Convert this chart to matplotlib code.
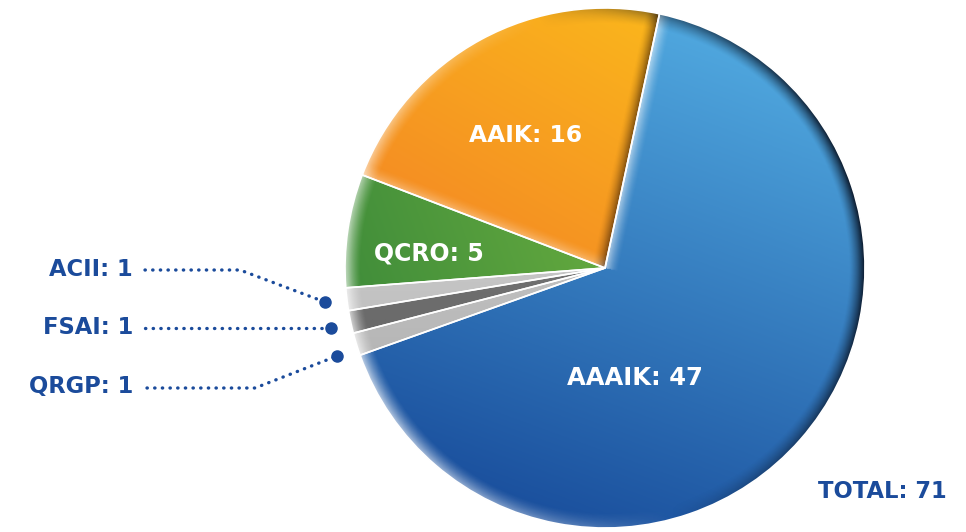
import numpy as np
import matplotlib.pyplot as plt
from matplotlib.colors import LinearSegmentedColormap
from matplotlib.patches import Circle

# Data ---------------------------------------------------------
labels = ['AAIK', 'QCRO', 'ACII', 'FSAI', 'QRGP', 'AAAIK']
values = [16, 5, 1, 1, 1, 47]
total = sum(values)

# light / dark colour of each slice
cols_light = ['#fbb81c', '#86c443', '#e2e2e2', '#8c8c8c', '#dedede', '#50a8df']
cols_dark = ['#f06f28', '#3f8c3a', '#a9a9a9', '#555555', '#a2a2a2', '#1a4f9d']
grad_angle = [60, 20, 90, 90, 90, 70]
# bevel on the radial edges: (start edge, end edge), >0 light, <0 shadow
bevel = [(-0.65, 0.35), (0.0, 0.0), (0, 0), (0, 0), (0, 0), (0.0, 0.6)]

navy = '#1b4b9b'

H = 532
fig = plt.figure(figsize=(9.66, 5.32), dpi=100)
ax = fig.add_axes([0, 0, 1, 1])

cx, cy, R = 605, H - 268, 260
wedges, _ = ax.pie(values, startangle=77.9, counterclock=True,
                   center=(cx, cy), radius=R, frame=True,
                   wedgeprops=dict(facecolor='none', edgecolor='white',
                                   linewidth=1.2, zorder=5))

ax.set_xlim(0, 966)
ax.set_ylim(0, H)
ax.set_aspect('equal')
ax.axis('off')

n = 600
xs = np.linspace(cx - R, cx + R, n)
ys = np.linspace(cy - R, cy + R, n)
X, Y = np.meshgrid(xs, ys)
ext = (cx - R, cx + R, cy - R, cy + R)


def overlay(light, dark, shade_rgb=(0.03, 0.06, 0.12)):
    # white where light > 0, dark colour where dark > 0
    img = np.zeros((n, n, 4))
    tot = light + dark
    frac = np.where(tot > 0, dark / np.maximum(tot, 1e-9), 0)
    for k in range(3):
        img[..., k] = (1 - frac) * 1.0 + frac * shade_rgb[k]
    img[..., 3] = np.clip(tot, 0, 1)
    return img


# gradient fill + bevel for every slice
for w, c0, c1, ang, bv in zip(wedges, cols_dark, cols_light, grad_angle, bevel):
    a = np.radians(ang)
    d = (np.cos(a) * (X - cx) + np.sin(a) * (Y - cy)) / R
    t = np.clip((d + 1) / 2, 0, 1)
    cmap = LinearSegmentedColormap.from_list('g', [c0, c1])
    im = ax.imshow(t, cmap=cmap, extent=ext, origin='lower', vmin=0, vmax=1,
                   zorder=2, interpolation='bilinear')
    im.set_clip_path(w)

    light = np.zeros((n, n))
    dark = np.zeros((n, n))
    for edge_ang, amt in zip((w.theta1, w.theta2), bv):
        if amt == 0:
            continue
        e = np.radians(edge_ang)
        dist = np.abs((X - cx) * np.sin(e) - (Y - cy) * np.cos(e))
        proj = (X - cx) * np.cos(e) + (Y - cy) * np.sin(e)
        band = np.clip(1 - dist / 14, 0, 1) ** 1.6 * (proj > 0)
        if amt > 0:
            light += band * amt
        else:
            dark += band * (-amt)
    if light.any() or dark.any():
        bim = ax.imshow(overlay(light, dark, (0.2, 0.1, 0.02)), extent=ext,
                        origin='lower', zorder=3, interpolation='bilinear')
        bim.set_clip_path(w)

# rim shading (light from the left, shadow on the right)
r = np.sqrt((X - cx) ** 2 + (Y - cy) ** 2) / R
th = np.arctan2(Y - cy, X - cx)
f = np.clip((r - 0.94) / 0.06, 0, 1) ** 1.4
s = np.cos(th - np.radians(195))
rim_light = np.where(s > 0, f * s * 0.7, 0)
rim_dark = np.where(s < 0, f * (-s) * 0.95, 0)
circ = Circle((cx, cy), R, transform=ax.transData)
rim = ax.imshow(overlay(rim_light, rim_dark), extent=ext, origin='lower',
                zorder=4, interpolation='bilinear')
rim.set_clip_path(circ)

# labels inside slices
font = 'DejaVu Sans'
ax.text(526, H - 135, 'AAIK: 16', color='white', fontsize=16.8, fontweight='bold',
        ha='center', va='center', family=font, zorder=6)
ax.text(429, H - 253, 'QCRO: 5', color='white', fontsize=17, fontweight='bold',
        ha='center', va='center', family=font, zorder=6)
ax.text(635, H - 378, 'AAAIK: 47', color='white', fontsize=17.5, fontweight='bold',
        ha='center', va='center', family=font, zorder=6)
ax.text(882, H - 492, 'TOTAL: ' + str(total), color=navy, fontsize=16.3,
        fontweight='bold', ha='center', va='center', family=font, zorder=6)

# small slices with leader lines
small = ['ACII', 'FSAI', 'QRGP']
small_vals = [1, 1, 1]
label_y = [269, 328, 387]
lines_x = [[145, 240, 325], [145, 331], [147, 255, 337]]
lines_y = [[270, 270, 302], [328, 328], [388, 388, 356]]

for name, v, ly, lx, lyy in zip(small, small_vals, label_y, lines_x, lines_y):
    ax.text(133, H - ly, f'{name}: {v}', color=navy, fontsize=16.3,
            fontweight='bold', ha='right', va='center', family=font)
    yy = [H - y for y in lyy]
    ax.plot(lx, yy, color=navy, linewidth=2.4, linestyle=(0, (0.1, 2.2)),
            dash_capstyle='round', solid_capstyle='round')
    ax.plot(lx[-1], yy[-1], 'o', color=navy, markersize=8)

fig.savefig('out.png', dpi=100)
